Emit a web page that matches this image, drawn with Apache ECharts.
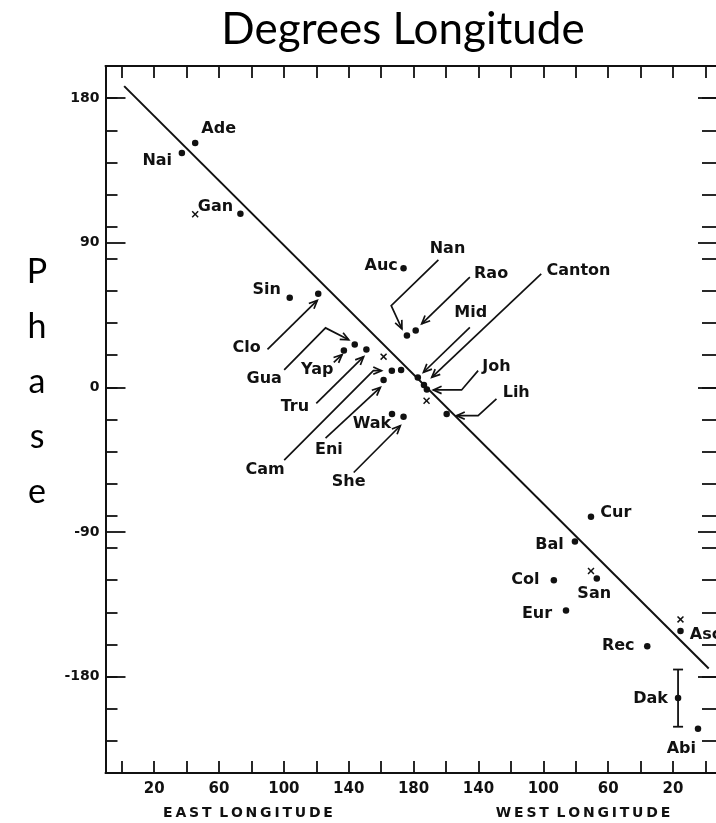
<!DOCTYPE html>
<html>
<head>
<meta charset="utf-8">
<script src="https://cdn.jsdelivr.net/npm/echarts@6/dist/echarts.min.js"></script>
<style>
  html, body { margin: 0; padding: 0; background: #fff; }
  #chart { width: 716px; height: 823px; }
</style>
</head>
<body>
<div id="chart"></div>
<script>
// Longitude runs continuously east: 0..180 = East, 180..360 = West (360 - w)
const lonTicks = [0, 20, 40, 60, 80, 100, 120, 140, 160, 180, 200, 220, 240, 260, 280, 300, 320, 340, 360];
const lonLabels = [20, 60, 100, 140, 180, 220, 260, 300, 340];
const phaseTicks = [-240, -220, -200, -180, -160, -140, -120, -100, -80, -60, -40, -20, 0, 20, 40, 60, 80, 100, 120, 140, 160, 180, 200];
const phaseLabels = [-180, -90, 0, 90, 180];

// Station phases (dots)
const stationNames = ['Ade', 'Nai', 'Gan', 'Sin', 'Clo', 'Gua', 'Yap', 'Tru', 'Cam', '', 'Eni', 'Wak', 'She',
  'Auc', 'Nan', 'Rao', 'Mid', 'Canton', 'Joh', 'Lih', 'Cur', 'Bal', 'Col', 'San', 'Eur', 'Rec', 'Asc', 'Dak', 'Abi'];
const stationLon = [45.3, 37.1, 73.2, 103.6, 121.2, 143.7, 137.0, 150.9, 166.6, 172.3, 161.5, 166.7, 173.8,
  173.8, 175.9, 181.3, 182.6, 186.4, 188.2, 200.4, 289.4, 279.5, 266.5, 293.0, 274.0, 324.1, 344.6, 343.1, 355.4];
const stationPhase = [152.1, 145.9, 108.1, 55.7, 58.2, 26.6, 22.9, 23.5, 10.4, 10.8, 4.6, -16.6, -18.3,
  74.2, 32.2, 35.4, 6.2, 1.4, -1.4, -16.6, -80.6, -96.0, -120.1, -118.9, -138.8, -161.1, -151.7, -193.3, -212.4];

// Alternative determinations (x marks)
const crossNames = ['Gan', 'Cam', 'Joh', 'San', 'Asc'];
const crossLon = [45.3, 161.5, 188.0, 289.4, 344.6];
const crossPhase = [107.7, 19.1, -8.3, -114.3, -144.4];

// Dakar uncertainty range
const dakLon = 343.1;
const dakRange = [-211.2, -175.6];

// Reference line
const refLine = [[1.5, 187.5], [362.0, -175.0]];

// Where each station name is written (data coordinates)
const labelText = ['Ade', 'Nai', 'Gan', 'Sin', 'Clo', 'Gua', 'Yap', 'Tru', 'Cam', 'Eni', 'Wak', 'She',
  'Auc', 'Nan', 'Rao', 'Mid', 'Canton', 'Joh', 'Lih', 'Cur', 'Bal', 'Col', 'San', 'Eur', 'Rec', 'Asc', 'Dak', 'Abi'];
const labelAt = [[59.8, 161.1], [21.9, 140.9], [57.8, 112.2], [89.4, 60.9], [77.1, 24.9], [87.9, 5.2], [120.6, 10.9],
  [106.8, -11.9], [88.4, -51.4], [127.8, -39.0], [154.3, -22.8], [140.0, -58.7],
  [160.0, 75.9], [200.9, 86.3], [227.8, 70.9], [215.2, 46.3], [281.7, 72.3], [231.1, 13.0], [243.3, -3.1],
  [304.7, -77.9], [263.8, -98.2], [249.0, -119.5], [291.4, -128.3], [256.1, -140.8], [306.2, -160.6],
  [360.0, -153.8], [326.2, -193.8], [345.1, -225.0]];

// Leader arrows from names to their points
const leaderPaths = [
  [[89.9, 23.7], [120.6, 54.1]],                       // Clo
  [[100.2, 10.9], [125.7, 37.0], [140.0, 29.6]],       // Gua
  [[130.8, 15.6], [135.9, 20.4]],                      // Yap
  [[120.0, -10.0], [149.2, 19.1]],                     // Tru
  [[100.2, -45.3], [155.2, 10.4], [160.2, 10.4]],      // Cam
  [[125.7, -31.6], [159.5, 0.0]],                      // Eni
  [[143.1, -53.0], [171.8, -23.9]],                    // She
  [[195.3, 79.4], [166.2, 50.9], [172.8, 36.4]],       // Nan
  [[214.7, 68.6], [185.0, 39.5]],                      // Rao
  [[214.7, 37.4], [186.1, 9.4]],                       // Mid
  [[258.7, 70.7], [191.2, 6.2]],                       // Canton
  [[219.8, 10.4], [209.6, -1.6], [192.2, -1.6]],       // Joh
  [[231.1, -7.2], [219.8, -17.6], [206.5, -17.6]]      // Lih
];

const INK = '#111';
const FONT = 'DejaVu Sans';
const CROSS = 'path://M0,1.5L1.5,0L5,3.5L8.5,0L10,1.5L6.5,5L10,8.5L8.5,10L5,6.5L1.5,10L0,8.5L3.5,5Z';

function phaseAxis(position, ticks, len, labels, line) {
  return {
    type: 'value', position: position, min: -240, max: 200,
    splitLine: { show: false },
    axisLine: { show: line, onZero: false, lineStyle: { color: INK, width: 2 } },
    axisTick: { show: true, inside: true, length: len, customValues: ticks, lineStyle: { color: INK, width: 1.8 } },
    axisLabel: labels ? {
      show: true, customValues: labels, margin: 6, color: INK,
      fontFamily: FONT, fontSize: 14, fontWeight: 'bold'
    } : { show: false }
  };
}

function lonAxis(position, labels) {
  return {
    type: 'value', position: position, min: -10, max: 366.5,
    splitLine: { show: false },
    axisLine: { show: true, onZero: false, lineStyle: { color: INK, width: 2 } },
    axisTick: { show: true, inside: true, length: 12, customValues: lonTicks, lineStyle: { color: INK, width: 1.8 } },
    axisLabel: labels ? {
      show: true, customValues: lonLabels, margin: 9, color: INK,
      fontFamily: FONT, fontSize: 15, fontWeight: 'bold',
      formatter: v => String(v <= 180 ? v : 360 - v)
    } : { show: false }
  };
}

function leaderItem(params, api) {
  const pts = leaderPaths[params.dataIndex].map(p => api.coord(p));
  const n = pts.length;
  const tip = pts[n - 1], prev = pts[n - 2];
  const ang = Math.atan2(tip[1] - prev[1], tip[0] - prev[0]);
  const L = 9, a = 0.42;
  const h1 = [tip[0] - L * Math.cos(ang - a), tip[1] - L * Math.sin(ang - a)];
  const h2 = [tip[0] - L * Math.cos(ang + a), tip[1] - L * Math.sin(ang + a)];
  return {
    type: 'group',
    children: [
      { type: 'polyline', shape: { points: pts }, style: { stroke: INK, lineWidth: 1.7, fill: null } },
      { type: 'polyline', shape: { points: [h1, tip, h2] }, style: { stroke: INK, lineWidth: 1.7, fill: null } }
    ]
  };
}

function errorItem(params, api) {
  const top = api.coord([api.value(0), api.value(2)]);
  const bot = api.coord([api.value(0), api.value(1)]);
  const w = 5;
  const s = { stroke: INK, lineWidth: 1.8 };
  return {
    type: 'group',
    children: [
      { type: 'line', shape: { x1: top[0], y1: top[1], x2: bot[0], y2: bot[1] }, style: s },
      { type: 'line', shape: { x1: top[0] - w, y1: top[1], x2: top[0] + w, y2: top[1] }, style: s },
      { type: 'line', shape: { x1: bot[0] - w, y1: bot[1], x2: bot[0] + w, y2: bot[1] }, style: s }
    ]
  };
}

const chart = echarts.init(document.getElementById('chart'), null, { renderer: 'canvas' });

chart.setOption({
  backgroundColor: '#fff',
  animation: false,
  grid: { left: 105.5, right: -3, top: 66, bottom: 50, containLabel: false },
  xAxis: [lonAxis('bottom', true), lonAxis('top', false)],
  yAxis: [
    phaseAxis('left', phaseTicks, 12, null, true),
    phaseAxis('left', phaseLabels, 20, phaseLabels, true),
    phaseAxis('right', phaseTicks, 14, null, false),
    phaseAxis('right', phaseLabels, 18, null, false)
  ],
  graphic: [
    { type: 'text', style: { x: 403, y: 30, text: 'Degrees Longitude', font: '44px Lato', fill: '#000', align: 'center', verticalAlign: 'middle' } },
    { type: 'text', style: { x: 37, y: 245, text: 'P\nh\na\ns\ne', font: '34px Lato', lineHeight: 55, fill: '#000', align: 'center', verticalAlign: 'top' } },
    { type: 'text', style: { x: 248, y: 813, text: 'E\u2009A\u2009S\u2009T\u2009 L\u2009O\u2009N\u2009G\u2009I\u2009T\u2009U\u2009D\u2009E', font: 'bold 14px "DejaVu Sans"', fill: INK, align: 'center', verticalAlign: 'middle' } },
    { type: 'text', style: { x: 583, y: 813, text: 'W\u2009E\u2009S\u2009T\u2009 L\u2009O\u2009N\u2009G\u2009I\u2009T\u2009U\u2009D\u2009E', font: 'bold 14px "DejaVu Sans"', fill: INK, align: 'center', verticalAlign: 'middle' } }
  ],
  series: [
    {
      type: 'line', data: refLine, symbol: 'none', silent: true,
      lineStyle: { color: INK, width: 2 }
    },
    {
      type: 'scatter', symbol: 'circle', symbolSize: 6.5,
      itemStyle: { color: INK, opacity: 1 },
      data: stationLon.map((x, i) => ({ value: [x, stationPhase[i]], name: stationNames[i] }))
    },
    {
      type: 'scatter', symbol: CROSS, symbolSize: 7,
      itemStyle: { color: INK, opacity: 1 },
      data: crossLon.map((x, i) => ({ value: [x, crossPhase[i]], name: crossNames[i] }))
    },
    {
      type: 'custom', renderItem: errorItem, clip: false,
      data: [[dakLon, dakRange[0], dakRange[1]]]
    },
    {
      type: 'custom', renderItem: leaderItem, clip: false,
      data: leaderPaths.map(p => p[0])
    },
    {
      type: 'scatter', symbolSize: 0, silent: true,
      itemStyle: { opacity: 1 },
      label: {
        show: true, position: 'inside', formatter: p => p.name,
        color: INK, fontFamily: FONT, fontSize: 16, fontWeight: 'bold'
      },
      data: labelAt.map((c, i) => ({ value: c, name: labelText[i] }))
    }
  ]
});
</script>
</body>
</html>
